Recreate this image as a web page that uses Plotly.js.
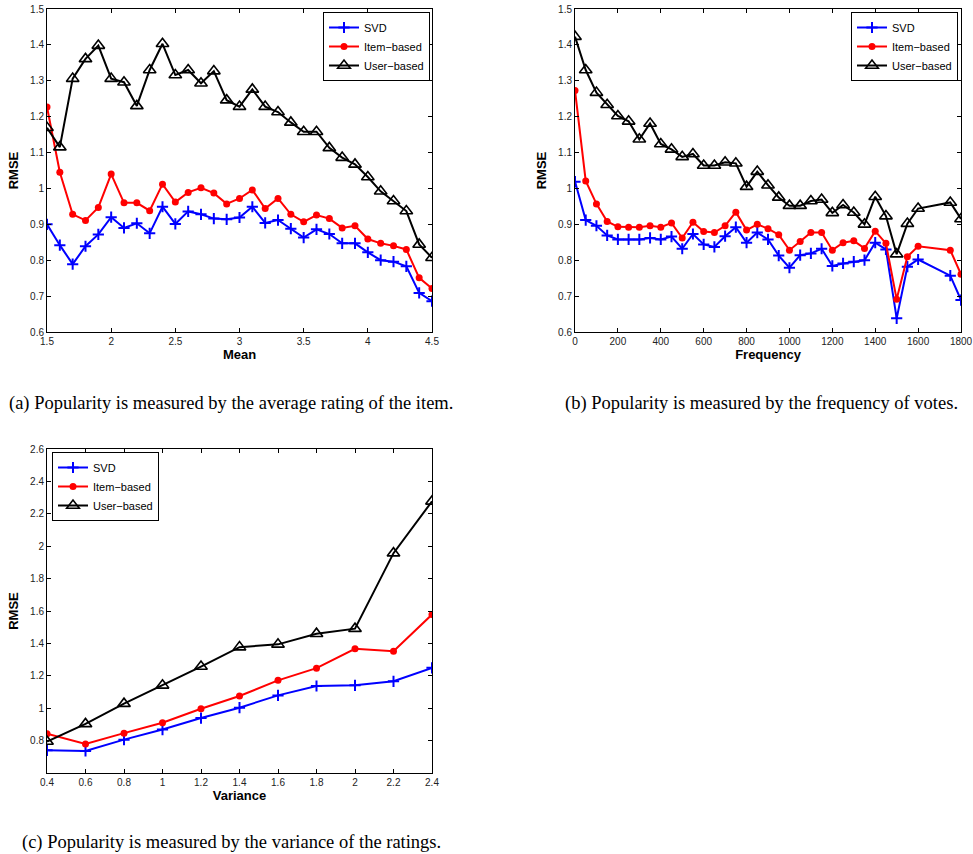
<!DOCTYPE html>
<html>
<head>
<meta charset="utf-8">
<script src="https://cdn.plot.ly/plotly-3.0.1.min.js"></script>
<style>html,body{margin:0;padding:0;background:#fff;}#chart{width:973px;height:854px;}</style>
</head>
<body>
<div id="chart"></div>
<script>
// ---- Panel (a): popularity by mean rating ----
const meanX = [1.5,1.6,1.7,1.8,1.9,2.0,2.1,2.2,2.3,2.4,2.5,2.6,2.7,2.8,2.9,3.0,3.1,3.2,3.3,3.4,3.5,3.6,3.7,3.8,3.9,4.0,4.1,4.2,4.3,4.4,4.5];
const meanSVD = [0.900,0.842,0.789,0.839,0.872,0.920,0.890,0.903,0.875,0.949,0.901,0.936,0.928,0.916,0.914,0.919,0.949,0.904,0.912,0.888,0.863,0.886,0.873,0.847,0.847,0.822,0.800,0.796,0.783,0.709,0.686];
const meanItem = [1.227,1.045,0.928,0.911,0.947,1.040,0.960,0.960,0.938,1.012,0.962,0.989,1.002,0.987,0.957,0.972,0.996,0.944,0.972,0.928,0.907,0.926,0.916,0.890,0.896,0.859,0.847,0.840,0.830,0.751,0.721];
const meanUser = [1.169,1.115,1.306,1.361,1.398,1.306,1.296,1.230,1.330,1.403,1.316,1.330,1.293,1.327,1.246,1.228,1.276,1.228,1.213,1.184,1.158,1.158,1.113,1.086,1.067,1.032,0.992,0.965,0.937,0.844,0.807];

// ---- Panel (b): popularity by frequency of votes ----
const freqX = [0,50,100,150,200,250,300,350,400,450,500,550,600,650,700,750,800,850,900,950,1000,1050,1100,1150,1200,1250,1300,1350,1400,1450,1500,1550,1600,1750,1800];
const freqSVD = [1.019,0.912,0.896,0.869,0.858,0.858,0.858,0.862,0.858,0.866,0.832,0.873,0.844,0.837,0.867,0.892,0.849,0.877,0.858,0.813,0.779,0.814,0.819,0.832,0.784,0.791,0.796,0.800,0.849,0.830,0.638,0.782,0.802,0.757,0.689];
const freqItem = [1.273,1.021,0.957,0.908,0.893,0.892,0.892,0.896,0.892,0.904,0.862,0.906,0.880,0.877,0.896,0.934,0.884,0.900,0.888,0.871,0.828,0.852,0.877,0.877,0.828,0.849,0.854,0.833,0.881,0.847,0.691,0.810,0.839,0.828,0.761];
const freqUser = [1.423,1.330,1.267,1.233,1.202,1.187,1.137,1.181,1.124,1.109,1.088,1.096,1.064,1.064,1.073,1.070,1.005,1.047,1.009,0.975,0.952,0.952,0.965,0.969,0.932,0.954,0.933,0.900,0.977,0.923,0.817,0.902,0.944,0.961,0.915];

// ---- Panel (c): popularity by variance of ratings ----
const varX = [0.4,0.6,0.8,1.0,1.2,1.4,1.6,1.8,2.0,2.2,2.4];
const varSVD = [0.740,0.736,0.806,0.868,0.939,1.003,1.079,1.137,1.141,1.166,1.249];
const varItem = [0.843,0.779,0.846,0.910,0.997,1.075,1.172,1.247,1.367,1.352,1.578];
const varUser = [0.794,0.903,1.028,1.141,1.257,1.377,1.394,1.460,1.491,1.957,2.277];

const seriesNames = ['SVD','Item\u2212based','User\u2212based'];
const varYTicks = [0.8,1,1.2,1.4,1.6,1.8,2,2.2,2.4,2.6];
const captions = [
  '(a) Popularity is measured by the average rating of the item.',
  '(b) Popularity is measured by the frequency of votes.',
  '(c) Popularity is measured by the variance of the ratings.'
];

const styles = [
  {color:'#0000ff', marker:{symbol:'cross-thin', size:8, color:'#0000ff', line:{color:'#0000ff', width:2}}},
  {color:'#ff0000', marker:{symbol:'circle', size:7, color:'#ff0000'}},
  {color:'#000000', marker:{symbol:'triangle-up-open', size:11, color:'#000000', line:{color:'#000000', width:1.6}}}
];

function mk(x, y, i, xa, ya, leg) {
  return {
    x: x, y: y, type:'scatter', mode:'lines+markers', name: seriesNames[i],
    xaxis: xa, yaxis: ya, legend: leg,
    line:{color: styles[i].color, width:2},
    marker: styles[i].marker
  };
}

const data = [
  mk(meanX, meanSVD, 0, 'x', 'y', 'legend'),
  mk(meanX, meanItem, 1, 'x', 'y', 'legend'),
  mk(meanX, meanUser, 2, 'x', 'y', 'legend'),
  mk(freqX, freqSVD, 0, 'x2', 'y2', 'legend2'),
  mk(freqX, freqItem, 1, 'x2', 'y2', 'legend2'),
  mk(freqX, freqUser, 2, 'x2', 'y2', 'legend2'),
  mk(varX, varSVD, 0, 'x3', 'y3', 'legend3'),
  mk(varX, varItem, 1, 'x3', 'y3', 'legend3'),
  mk(varX, varUser, 2, 'x3', 'y3', 'legend3')
];

const W = 973, H = 854;
const tickFont = {family:'Liberation Sans, Arial, sans-serif', size:10, color:'#222'};
const titleFont = {family:'Liberation Sans, Arial, sans-serif', size:13, color:'#000', weight:'bold'};
const capFont = {family:'Liberation Serif, Times New Roman, serif', size:18.5, color:'#000'};

function axisBase(extra) {
  return Object.assign({
    showline:true, linecolor:'#000', linewidth:1, mirror:'ticks',
    ticks:'inside', ticklen:4, tickcolor:'#000', tickwidth:1,
    showgrid:false, zeroline:false, tickfont: tickFont, fixedrange:true
  }, extra);
}

const legendBase = {
  bgcolor:'#ffffff', bordercolor:'#000', borderwidth:1,
  font:{family:'Liberation Sans, Arial, sans-serif', size:11, color:'#000'},
  tracegroupgap:0, itemwidth:30
};

const layout = {
  width: W, height: H,
  margin:{l:0, r:0, t:0, b:0},
  paper_bgcolor:'#fff', plot_bgcolor:'#fff',
  showlegend:true,
  xaxis: axisBase({domain:[47/W, 432/W], anchor:'y', range:[1.5,4.5], dtick:0.5, tick0:1.5,
    title:{text:'Mean', font:titleFont, standoff:2}}),
  yaxis: axisBase({domain:[1-332/H, 1-9/H], anchor:'x', range:[0.6,1.5], dtick:0.1, tick0:0.6,
    title:{text:'RMSE', font:titleFont, standoff:8}}),
  xaxis2: axisBase({domain:[575/W, 961/W], anchor:'y2', range:[0,1800], dtick:200, tick0:0,
    title:{text:'Frequency', font:titleFont, standoff:2}}),
  yaxis2: axisBase({domain:[1-332/H, 1-9/H], anchor:'x2', range:[0.6,1.5], dtick:0.1, tick0:0.6,
    title:{text:'RMSE', font:titleFont, standoff:8}}),
  xaxis3: axisBase({domain:[47/W, 432/W], anchor:'y3', range:[0.4,2.4], dtick:0.2, tick0:0.4,
    title:{text:'Variance', font:titleFont, standoff:2}}),
  yaxis3: axisBase({domain:[1-773/H, 1-449/H], anchor:'x3', range:[0.6,2.6], tickmode:'array', tickvals:varYTicks,
    title:{text:'RMSE', font:titleFont, standoff:8}}),
  legend: Object.assign({}, legendBase, {x:430/W, xanchor:'right', y:1-12/H, yanchor:'top'}),
  legend2: Object.assign({}, legendBase, {x:958/W, xanchor:'right', y:1-12/H, yanchor:'top'}),
  legend3: Object.assign({}, legendBase, {x:52/W, xanchor:'left', y:1-452/H, yanchor:'top'}),
  annotations: [
    {text:captions[0], xref:'paper', yref:'paper', x:231/W, y:1-403/H, xanchor:'center', yanchor:'middle', showarrow:false, font:capFont},
    {text:captions[1], xref:'paper', yref:'paper', x:761/W, y:1-403/H, xanchor:'center', yanchor:'middle', showarrow:false, font:capFont},
    {text:captions[2], xref:'paper', yref:'paper', x:231/W, y:1-842/H, xanchor:'center', yanchor:'middle', showarrow:false, font:capFont}
  ]
};

Plotly.newPlot('chart', data, layout, {staticPlot:true, displayModeBar:false});
</script>
</body>
</html>
